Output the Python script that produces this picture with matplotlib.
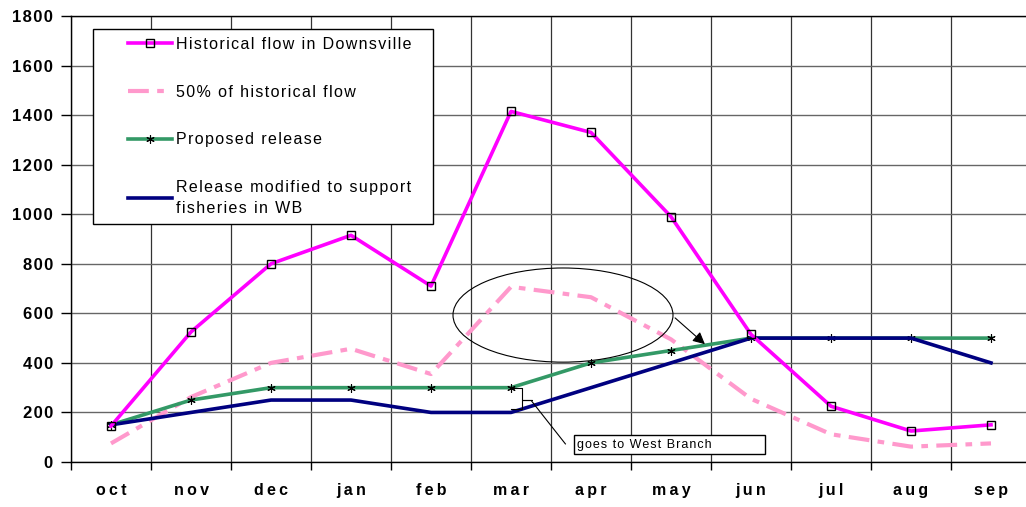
import matplotlib
matplotlib.use("Agg")
import matplotlib.pyplot as plt
from matplotlib.patches import Ellipse, Rectangle

plt.rcParams['font.family'] = ['Liberation Sans', 'DejaVu Sans']

months = ['oct', 'nov', 'dec', 'jan', 'feb', 'mar', 'apr', 'may', 'jun', 'jul', 'aug', 'sep']
historical = [145, 525, 800, 915, 710, 1415, 1330, 990, 515, 225, 125, 150]
half_hist = [75, 262, 400, 457, 355, 707, 665, 495, 255, 112, 62, 75]
proposed = [150, 250, 300, 300, 300, 300, 400, 450, 500, 500, 500, 500]
modified = [150, 200, 250, 250, 200, 200, 300, 400, 500, 500, 500, 400]
yticks = list(range(0, 1801, 200))

HAIR = '\u200a'
THIN = '\u2009'


def spaced(s, sep=HAIR):
    # excel-style letter spacing
    return '\n'.join(sep.join(line) for line in s.split('\n'))


x = list(range(len(months)))

fig = plt.figure(figsize=(10.26, 5.07), dpi=100)
ax = fig.add_axes([71 / 1026, 1 - 462 / 507, 960 / 1026, 446 / 507])

ax.plot(x, historical, color='#FF00FF', lw=2.6, marker='s', ms=6,
        mfc='none', mec='black', mew=1.0,
        label=spaced('Historical flow in Downsville'), zorder=4)
ax.plot(x, half_hist, color='#FF99CC', lw=3.0, dashes=(5, 2, 1.6, 2),
        label=spaced('50% of historical flow'), zorder=3)
ax.plot(x, proposed, color='#339966', lw=2.6, marker=(6, 2, 0), ms=6,
        mec='black', mew=0.8, label=spaced('Proposed release'), zorder=3)
ax.plot(x, modified, color='#000080', lw=2.6,
        label=spaced('Release modified to support\nfisheries in WB'), zorder=3)

ax.set_xlim(-0.5, 11.5)
ax.set_ylim(0, 1800)
ax.set_yticks(yticks)
ax.set_yticklabels([spaced(str(v)) for v in yticks], fontweight='bold', fontsize=12)
ax.set_xticks(x)
ax.set_xticklabels([spaced(m, THIN) for m in months], fontweight='bold', fontsize=11.5)
ax.set_xticks([i + 0.5 for i in range(-1, 12)], minor=True)
ax.tick_params(axis='x', which='major', length=0, pad=15)
ax.tick_params(axis='x', which='minor', length=6, width=1, direction='out')
ax.tick_params(axis='y', length=7, width=1, direction='out', pad=6)

ax.grid(True, axis='y', color='#666666', lw=1.0)
ax.grid(True, axis='x', which='minor', color='#333333', lw=0.9)
ax.set_axisbelow(True)
for s in ax.spines.values():
    s.set_color('black')
    s.set_linewidth(1.0)

# ellipse + arrow
ax.add_patch(Ellipse((5.65, 593), 2.75, 380, fill=False, ec='black', lw=0.8, zorder=5))
ax.annotate('', xy=(7.45, 468), xytext=(7.025, 589),
            arrowprops=dict(arrowstyle='-|>', color='black', lw=0.8, mutation_scale=18),
            zorder=6)

# brace + note
ax.plot([5.0, 5.14, 5.14, 5.26, 5.14, 5.14, 5.0],
        [300, 300, 250, 250, 250, 215, 215], color='black', lw=0.8, zorder=6)
ax.plot([5.26, 5.68], [245, 73], color='black', lw=0.8, zorder=6)
ax.add_patch(Rectangle((5.79, 32), 2.39, 77, fill=True, fc='white', ec='black',
                       lw=1.0, zorder=6))
ax.text(5.83, 70, spaced('goes to West Branch'), fontsize=9, va='center',
        ha='left', zorder=7)

# legend: frame drawn separately so the inner padding can match
ax.add_patch(Rectangle((93 / 1026, 1 - 224 / 507), 340 / 1026, 195 / 507,
                       transform=fig.transFigure, fc='white', ec='black', lw=1.0,
                       zorder=9, clip_on=False))
leg = ax.legend(loc='upper left', bbox_to_anchor=(128 / 1026, 1 - 37 / 507),
                bbox_transform=fig.transFigure, frameon=False,
                fontsize=11.5, labelspacing=2.05,
                handlelength=2.75, handletextpad=0.25, borderpad=0,
                borderaxespad=0)
leg.get_texts()[-1].set_linespacing(1.45)
leg.set_zorder(10)

fig.savefig('out.png', dpi=100)
